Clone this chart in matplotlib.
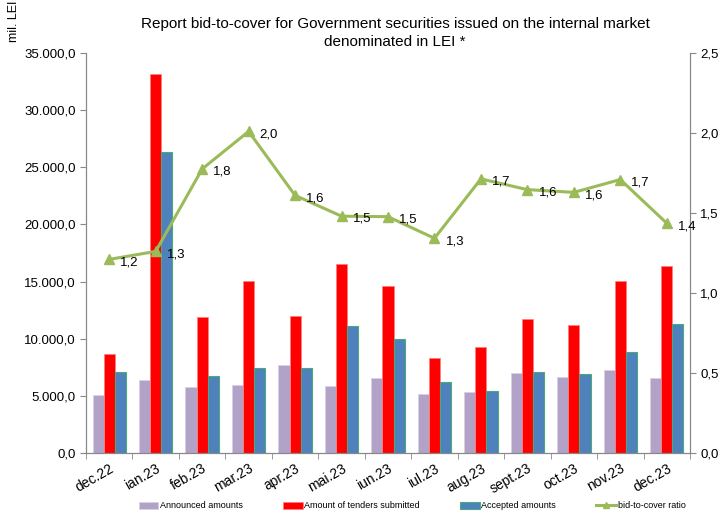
import matplotlib.pyplot as plt
import numpy as np
from matplotlib.ticker import FuncFormatter, FixedLocator

plt.rcParams['font.family'] = ['Liberation Sans', 'DejaVu Sans']

months = ['dec.22', 'ian.23', 'feb.23', 'mar.23', 'apr.23', 'mai.23', 'iun.23',
          'iul.23', 'aug.23', 'sept.23', 'oct.23', 'nov.23', 'dec.23']
announced = [5100, 6380, 5740, 5970, 7680, 5850, 6530, 5200, 5340, 6960, 6660, 7250, 6600]
submitted = [8620, 33200, 11900, 15030, 12030, 16560, 14650, 8280, 9250, 11710, 11180, 15030, 16350]
accepted = [7060, 26300, 6700, 7470, 7410, 11150, 9940, 6190, 5400, 7100, 6870, 8800, 11330]
ratio = [1.21, 1.26, 1.775, 2.01, 1.61, 1.48, 1.477, 1.342, 1.713, 1.646, 1.629, 1.709, 1.436]


def thousands(v, pos=None):
    s = '{:,.1f}'.format(v)
    return s.replace(',', ' ').replace('.', ',').replace(' ', '.')


def one_dec(v, pos=None):
    return '{:.1f}'.format(v).replace('.', ',')


fig = plt.figure(figsize=(7.18, 5.15), dpi=100)
ax = fig.add_axes([86 / 718, 1 - 453 / 515, 604 / 718, 400 / 515])
ax2 = ax.twinx()

x = np.arange(len(months))
w = 0.24
ax.bar(x - w, announced, w, color='#B3A2C7', edgecolor='#D9CFE6', linewidth=0.6,
       label='Announced amounts', zorder=2)
ax.bar(x, submitted, w, color='#FF0000', edgecolor='#FF8080', linewidth=0.6,
       label='Amount of tenders submitted', zorder=2)
ax.bar(x + w, accepted, w, color='#4F81BD', edgecolor='#4BAA7A', linewidth=0.8,
       label='Accepted amounts', zorder=2)

ax2.plot(x, ratio, color='#9BBB59', linewidth=2.2, marker='^', markersize=7,
         label='bid-to-cover ratio', zorder=3)
for xi, r in zip(x, ratio):
    ax2.annotate(one_dec(r), (xi, r), xytext=(8, -2), textcoords='offset points',
                 ha='left', va='center', fontsize=9.5)

ax.set_xlim(-0.5, len(months) - 0.5)
ax.set_ylim(0, 35000)
ax2.set_ylim(0, 2.5)
ax.set_yticks(np.arange(0, 35001, 5000))
ax.yaxis.set_major_formatter(FuncFormatter(thousands))
ax2.set_yticks(np.arange(0, 2.51, 0.5))
ax2.yaxis.set_major_formatter(FuncFormatter(one_dec))

ax.set_xticks(x)
ax.set_xticklabels(months, rotation=30, ha='right', rotation_mode='anchor', fontsize=10)
ax.xaxis.set_minor_locator(FixedLocator(np.arange(-0.5, len(months), 1)))
ax.tick_params(axis='x', which='major', length=0, pad=6)
ax.tick_params(axis='x', which='minor', length=4, color='#888888')
ax.tick_params(axis='y', labelsize=9.5, color='#888888', length=4)
ax2.tick_params(axis='y', labelsize=9.5, color='#888888', length=4)

for a in (ax, ax2):
    a.spines['top'].set_visible(False)
    for s in ('left', 'right', 'bottom'):
        a.spines[s].set_color('#888888')

fig.text(395 / 718, 1 - 33 / 515, 'Report bid-to-cover for Government securities issued on the internal market\ndenominated in LEI *',
         ha='center', va='center', fontsize=11, linespacing=1.45)
fig.text(14 / 718, 1 - 21 / 515, 'mil. LEI', rotation=90, ha='center', va='center', fontsize=9)

h1, l1 = ax.get_legend_handles_labels()
h2, l2 = ax2.get_legend_handles_labels()
leg = fig.legend(h1 + h2, l1 + l2, loc='center', bbox_to_anchor=(412 / 718, 1 - 506 / 515),
                 ncol=4, frameon=False, fontsize=6.5, handlelength=2.2, handleheight=0.8,
                 handletextpad=0.2, columnspacing=4.4, borderpad=0.2)
leg.legend_handles[3].set_markersize(5)

fig.savefig('out.png', dpi=100)
